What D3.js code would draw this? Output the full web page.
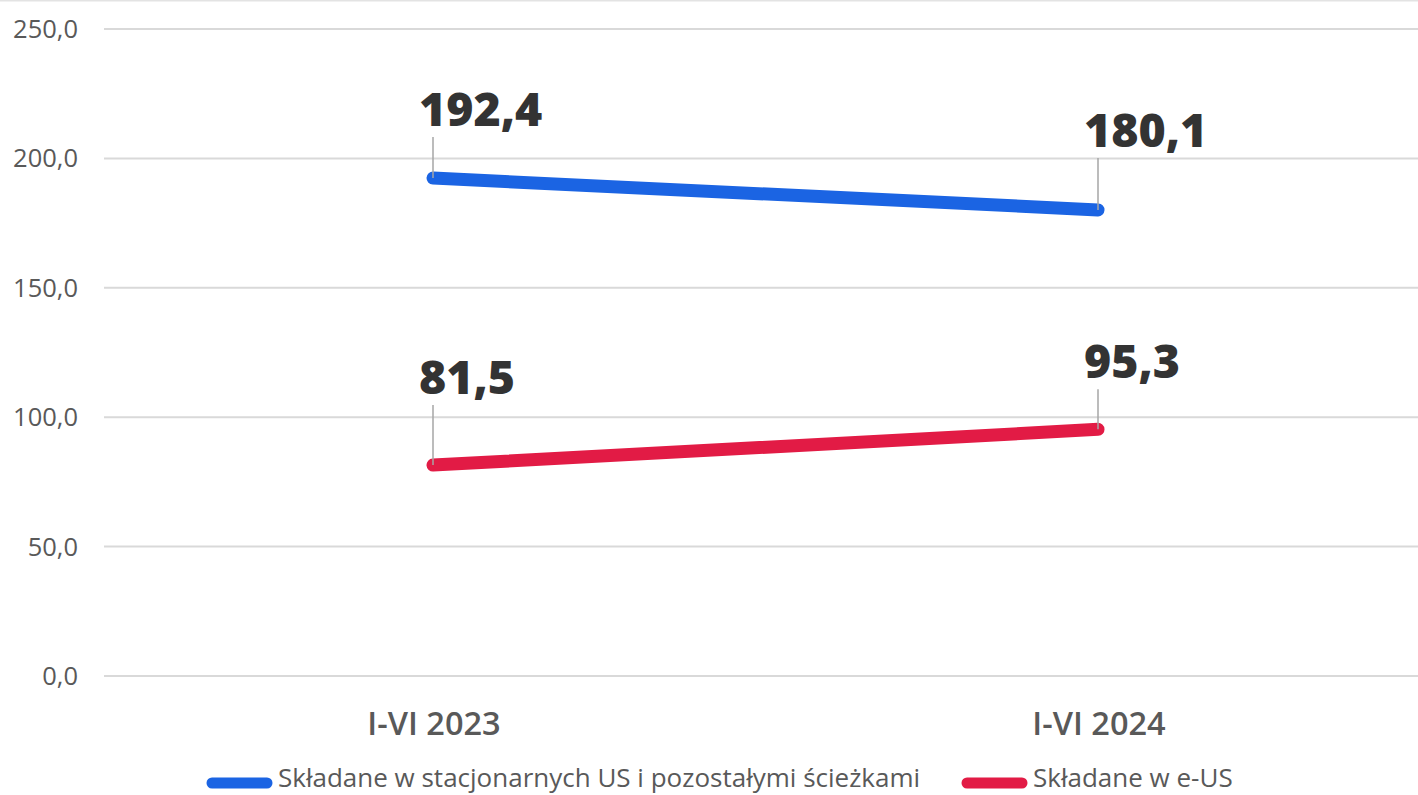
<!DOCTYPE html>
<html>
<head>
<meta charset="utf-8">
<script src="https://cdn.jsdelivr.net/npm/d3@7"></script>
<style>
  body { margin: 0; background: #fff; overflow: hidden; }
  text { font-family: "Open Sans", sans-serif; }
</style>
</head>
<body>
<script>
var okresy = ["I-VI 2023", "I-VI 2024"];
var stacjonarne = [192.4, 180.1];
var eUS = [81.5, 95.3];
var nazwySerii = ["Składane w stacjonarnych US i pozostałymi ścieżkami", "Składane w e-US"];
var ticksY = [0, 50, 100, 150, 200, 250];

var szer = 1418, wys = 795;
var kolory = ["#1b64e3", "#e21b45"];

var svg = d3.select("body").append("svg")
            .attr("width", szer)
            .attr("height", wys)
            .style("display", "block");

// top border line
svg.append("line")
   .attr("x1", 0).attr("x2", szer)
   .attr("y1", 0.5).attr("y2", 0.5)
   .attr("stroke", "#e3e3e3").attr("stroke-width", 2);

var y = d3.scaleLinear().domain([0, 250]).range([676, 29]);
var x = d3.scalePoint().domain(okresy).range([433, 1098]);

var fmt = function(v) { return d3.format(".1f")(v).replace(".", ","); };

// grid
svg.selectAll("line.grid")
   .data(ticksY)
   .enter()
   .append("line")
   .attr("class", "grid")
   .attr("x1", 104).attr("x2", szer)
   .attr("y1", function(d) { return y(d); })
   .attr("y2", function(d) { return y(d); })
   .attr("stroke", "#d9d9d9")
   .attr("stroke-width", 2);

svg.selectAll("text.ytick")
   .data(ticksY)
   .enter()
   .append("text")
   .attr("class", "ytick")
   .attr("x", 78)
   .attr("y", function(d) { return y(d) + 9; })
   .attr("text-anchor", "end")
   .attr("font-size", 25.5)
   .attr("fill", "#595959")
   .text(fmt);

svg.selectAll("text.xtick")
   .data(okresy)
   .enter()
   .append("text")
   .attr("class", "xtick")
   .attr("x", function(d) { return x(d) + 1; })
   .attr("y", 735)
   .attr("text-anchor", "middle")
   .attr("font-size", 32.5)
   .attr("font-weight", 600)
   .attr("fill", "#595959")
   .text(function(d) { return d; });

var linia = d3.line()
              .x(function(d, i) { return x(okresy[i]); })
              .y(function(d) { return y(d); });

// label heights above each point (leader length)
var odstepy = [[41, 52], [60, 40]];

[stacjonarne, eUS].forEach(function(seria, s) {
  svg.append("path")
     .datum(seria)
     .attr("d", linia)
     .attr("fill", "none")
     .attr("stroke", kolory[s])
     .attr("stroke-width", 13)
     .attr("stroke-linecap", "round");

  seria.forEach(function(v, i) {
    var px = x(okresy[i]), py = y(v);
    var top = py - odstepy[s][i];
    svg.append("line")
       .attr("x1", px).attr("x2", px)
       .attr("y1", py).attr("y2", top)
       .attr("stroke", "#a6a6a6")
       .attr("stroke-width", 1.5);
    svg.append("text")
       .attr("x", px - 14)
       .attr("y", top - 11)
       .attr("font-size", 46.5)
       .attr("font-weight", 800)
       .attr("fill", "#333")
       .text(fmt(v));
  });
});

// legend
var legX = [207, 962];
nazwySerii.forEach(function(n, s) {
  svg.append("line")
     .attr("x1", legX[s] + 5).attr("x2", legX[s] + 60)
     .attr("y1", 783).attr("y2", 783)
     .attr("stroke", kolory[s])
     .attr("stroke-width", 11)
     .attr("stroke-linecap", "round");
  svg.append("text")
     .attr("x", legX[s] + 71)
     .attr("y", 787)
     .attr("font-size", 26)
     .attr("fill", "#595959")
     .text(n);
});
</script>
</body>
</html>
